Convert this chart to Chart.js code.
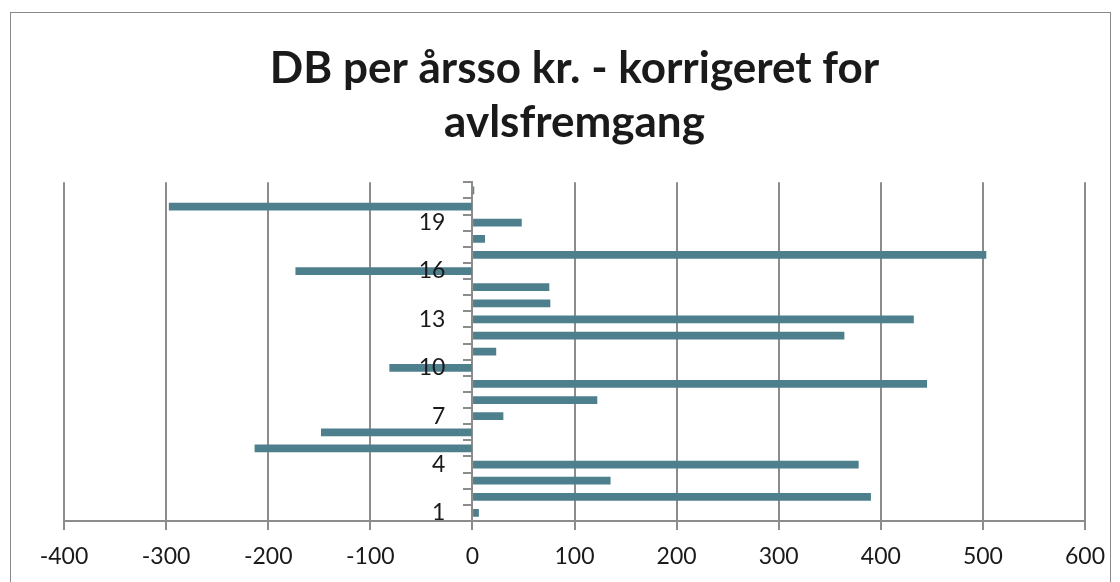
<!DOCTYPE html>
<html>
<head>
<meta charset="utf-8">
<script src="https://cdn.jsdelivr.net/npm/chart.js@4/dist/chart.umd.min.js"></script>
<style>
  html, body { margin: 0; padding: 0; background: #fff; }
  #frame { position: absolute; left: 10px; top: 12px; width: 1101px; height: 580px;
           border: 1.5px solid #8a8a8a; box-sizing: border-box; }
  #wrap { position: absolute; left: 0; top: 0; width: 1120px; height: 582px; }
</style>
</head>
<body>
<div id="frame"></div>
<div id="wrap"><canvas id="c" width="1120" height="582"></canvas></div>
<script>
// Period numbers on the category axis
const categories = ['1','2','3','4','5','6','7','8','9','10','11','12','13','14','15','16','17','18','19','20','21'];
// DB per årsso (kr.), corrected for breeding progress
const dbValues = [6, 390, 135, 378, -213, -148, 30, 122, 445, -81, 23, 364, 432, 76, 75, -173, 503, 12, 48, -297, 1.5];
// Value axis ticks
const valueTicks = [-400, -300, -200, -100, 0, 100, 200, 300, 400, 500, 600];
const titleLines = ['DB per årsso kr. - korrigeret for', 'avlsfremgang'];

const axisGray = '#8c8c8c';
const barColor = '#4e7f8d';
const textColor = '#1a1a1a';
const fontFamily = 'Lato, "Open Sans", sans-serif';

// Only every third period number is printed
function everyThird(val, idx) {
  return idx % 3 === 0 ? this.getLabelForValue(val) : '';
}

new Chart(document.getElementById('c'), {
  type: 'bar',
  data: {
    labels: categories,
    datasets: [{
      data: dbValues,
      backgroundColor: barColor,
      borderWidth: 0,
      barThickness: 7
    }]
  },
  options: {
    indexAxis: 'y',
    responsive: false,
    animation: false,
    layout: { padding: { left: 64, right: 35, bottom: 0, top: 0 } },
    plugins: {
      legend: { display: false },
      tooltip: { enabled: false },
      title: {
        display: true,
        text: titleLines,
        fullSize: false,
        color: textColor,
        font: { family: fontFamily, size: 44, weight: 'bold', lineHeight: 1.22 },
        padding: { top: 42, bottom: 33 }
      }
    },
    scales: {
      x: {
        type: 'linear',
        min: valueTicks[0],
        max: valueTicks[valueTicks.length - 1],
        afterBuildTicks: (scale) => { scale.ticks = valueTicks.map(v => ({ value: v })); },
        afterFit: (scale) => { scale.height = 61; },
        grid: {
          color: axisGray,
          lineWidth: 2,
          tickLength: 9,
          tickColor: axisGray
        },
        border: { color: axisGray, width: 2 },
        ticks: {
          color: textColor,
          font: { family: fontFamily, size: 23 },
          padding: 13,
          maxRotation: 0
        }
      },
      // Category axis drawn along the zero line: axis line and tick marks
      y: {
        type: 'category',
        reverse: true,
        position: { x: 0 },
        grid: {
          drawOnChartArea: false,
          offset: true,
          tickLength: 8,
          tickColor: axisGray,
          lineWidth: 2
        },
        border: { color: axisGray, width: 2 },
        ticks: { autoSkip: false, display: false }
      },
      // Period labels, set a little to the left of the zero line, drawn above the bars
      yLabels: {
        type: 'category',
        axis: 'y',
        reverse: true,
        offset: true,
        position: { x: -26.5 },
        grid: { display: false },
        border: { display: false },
        ticks: {
          z: 1,
          autoSkip: false,
          color: textColor,
          font: { family: fontFamily, size: 23 },
          padding: 0,
          callback: everyThird
        }
      }
    }
  }
});
</script>
</body>
</html>
